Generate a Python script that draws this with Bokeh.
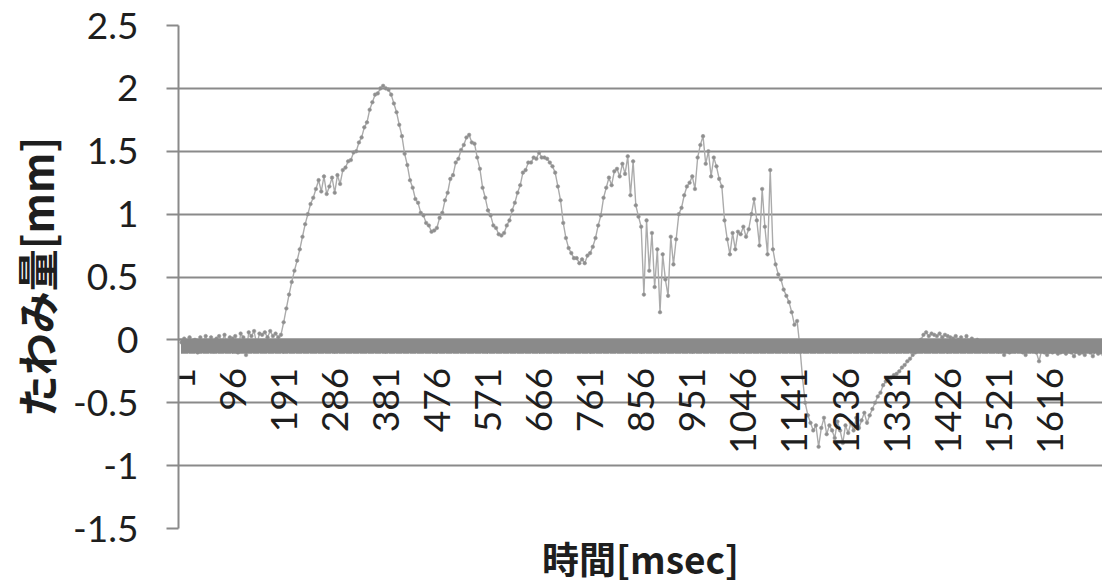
import math
from bokeh.plotting import figure
from bokeh.models import FixedTicker, Range1d, Title
from bokeh.embed import file_html
from bokeh.resources import INLINE

# Deflection [mm], one reading every 5 ms starting at 1 ms
deflection_mm = [
    -0.02, 0.01, -0.08, 0.02, -0.05, 0.00, -0.10, 0.02, -0.03, 0.03,
    -0.04, 0.02, -0.09, 0.01, 0.03, -0.02, 0.04, -0.06, 0.02, 0.01,
    0.03, -0.10, 0.05, 0.02, -0.12, 0.06, 0.03, 0.07, -0.04, 0.05,
    0.04, 0.06, 0.02, 0.07, 0.03, 0.05, 0.02, 0.04, 0.14, 0.25,
    0.36, 0.46, 0.55, 0.63, 0.72, 0.82, 0.92, 1.00, 1.08, 1.13,
    1.20, 1.27, 1.18, 1.30, 1.16, 1.22, 1.29, 1.17, 1.31, 1.24,
    1.35, 1.37, 1.42, 1.43, 1.49, 1.50, 1.57, 1.61, 1.69, 1.73,
    1.83, 1.89, 1.95, 1.96, 2.00, 2.02, 2.00, 1.99, 1.95, 1.88,
    1.81, 1.71, 1.62, 1.48, 1.39, 1.27, 1.21, 1.12, 1.09, 1.01,
    0.99, 0.93, 0.91, 0.86, 0.87, 0.89, 0.97, 1.01, 1.11, 1.17,
    1.28, 1.31, 1.41, 1.44, 1.51, 1.55, 1.61, 1.63, 1.57, 1.56,
    1.45, 1.36, 1.21, 1.13, 1.03, 0.99, 0.91, 0.89, 0.84, 0.83,
    0.85, 0.91, 0.95, 1.03, 1.09, 1.17, 1.23, 1.33, 1.35, 1.41,
    1.41, 1.45, 1.44, 1.49, 1.45, 1.45, 1.44, 1.41, 1.38, 1.33,
    1.22, 1.11, 0.93, 0.81, 0.73, 0.69, 0.65, 0.65, 0.61, 0.64,
    0.61, 0.67, 0.69, 0.74, 0.81, 0.91, 0.99, 1.13, 1.21, 1.29,
    1.23, 1.34, 1.36, 1.30, 1.40, 1.32, 1.46, 1.15, 1.42, 1.07,
    0.98, 0.90, 0.36, 0.95, 0.55, 0.85, 0.42, 0.72, 0.22, 0.68,
    0.48, 0.35, 0.82, 0.60, 0.80, 1.00, 1.05, 1.15, 1.22, 1.25,
    1.30, 1.20, 1.45, 1.55, 1.62, 1.40, 1.50, 1.30, 1.45, 1.38,
    1.28, 1.22, 0.95, 0.80, 0.68, 0.85, 0.72, 0.86, 0.84, 0.90,
    0.82, 0.88, 1.00, 1.12, 0.95, 0.75, 1.20, 0.90, 0.68, 1.35,
    0.72, 0.60, 0.52, 0.48, 0.40, 0.35, 0.30, 0.22, 0.12, 0.15,
    -0.05, -0.30, -0.50, -0.60, -0.66, -0.72, -0.68, -0.85, -0.70, -0.62,
    -0.75, -0.68, -0.72, -0.78, -0.65, -0.72, -0.82, -0.68, -0.74, -0.66,
    -0.72, -0.62, -0.70, -0.64, -0.58, -0.66, -0.60, -0.55, -0.50, -0.45,
    -0.42, -0.36, -0.33, -0.32, -0.30, -0.28, -0.27, -0.25, -0.22, -0.20,
    -0.17, -0.15, -0.12, -0.10, -0.06, 0.00, 0.04, 0.06, 0.03, 0.05,
    0.04, 0.03, 0.05, 0.02, 0.04, 0.03, 0.02, 0.01, 0.03, 0.00,
    0.02, -0.01, 0.03, -0.02, 0.01, -0.03, 0.00, -0.02, -0.04, -0.01,
    -0.03, -0.05, -0.04, -0.05, -0.06, -0.08, -0.12, -0.07, -0.10, -0.06,
    -0.09, -0.08, -0.06, -0.10, -0.12, -0.08, -0.09, -0.07, -0.10, -0.17,
    -0.08, -0.10, -0.12, -0.09, -0.10, -0.08, -0.11, -0.10, -0.09, -0.11,
    -0.08, -0.10, -0.13, -0.09, -0.11, -0.10, -0.12, -0.08, -0.10, -0.13,
    -0.09, -0.11, -0.10, -0.12,
]
step_ms = 5
time_ms = [1 + step_ms * i for i in range(len(deflection_mm))]

# Category axis: one slot per millisecond, labelled every 95
category_count = 1714
x_tick_values = list(range(1, 1617, 95))
x_tick_labels = [str(v) for v in x_tick_values]

y_tick_values = [-1.5, -1.0, -0.5, 0.0, 0.5, 1.0, 1.5, 2.0, 2.5]
y_tick_labels = ["-1.5", "-1", "-0.5", "0", "0.5", "1", "1.5", "2", "2.5"]

AXIS_GREY = "#8a8a8a"
TEXT = "#1e1e1e"
LATIN = "Lato"
CJK = "Noto Sans CJK JP"

p = figure(
    width=1102, height=584,
    output_backend="svg", toolbar_location=None,
    x_range=Range1d(-4.6, category_count),
    y_range=Range1d(y_tick_values[0], y_tick_values[-1]),
    min_border_left=178, min_border_right=0,
    min_border_top=25, min_border_bottom=50,
)
p.outline_line_color = None
p.background_fill_color = "white"
p.border_fill_color = "white"

# series: thin light line with small dot markers
p.line(time_ms, deflection_mm, line_color="#ababab", line_width=1.4)
p.scatter(time_ms, deflection_mm, marker="circle", size=3.6,
          fill_color="#8e8e8e", line_color="#9a9a9a", line_width=0.6)

# horizontal gridlines
p.xgrid.visible = False
p.ygrid.ticker = FixedTicker(ticks=y_tick_values)
p.ygrid.grid_line_color = AXIS_GREY
p.ygrid.grid_line_width = 2

# category axis crossing at zero, a tick mark for every category
xa = p.xaxis[0]
xa.fixed_location = 0
xa.ticker = FixedTicker(ticks=x_tick_values,
                        minor_ticks=list(range(1, category_count + 1)))
xa.major_label_overrides = {v: s for v, s in zip(x_tick_values, x_tick_labels)}
xa.major_label_orientation = math.pi / 2
xa.axis_line_color = AXIS_GREY
xa.axis_line_width = 2
xa.major_tick_line_color = AXIS_GREY
xa.minor_tick_line_color = AXIS_GREY
xa.major_tick_line_width = 1
xa.minor_tick_line_width = 1
xa.major_tick_in = 0
xa.minor_tick_in = 0
xa.major_tick_out = 14
xa.minor_tick_out = 14
xa.major_label_standoff = 14
xa.major_label_text_font = LATIN
xa.major_label_text_font_size = "37px"
xa.major_label_text_color = TEXT

ya = p.yaxis[0]
ya.ticker = FixedTicker(ticks=y_tick_values)
ya.major_label_overrides = {v: s for v, s in zip(y_tick_values, y_tick_labels)}
ya.axis_line_color = AXIS_GREY
ya.axis_line_width = 2
ya.major_tick_line_color = AXIS_GREY
ya.major_tick_line_width = 2
ya.major_tick_in = 0
ya.major_tick_out = 12
ya.minor_tick_line_color = None
ya.major_label_standoff = 28
ya.major_label_text_font = LATIN
ya.major_label_text_font_size = "37px"
ya.major_label_text_color = TEXT
ya.axis_label = "たわみ量[mm]"
ya.axis_label_text_font = CJK
ya.axis_label_text_font_style = "bold"
ya.axis_label_text_font_size = "42px"
ya.axis_label_text_color = TEXT
ya.axis_label_standoff = 4

p.add_layout(Title(text="時間[msec]", align="center", text_font=CJK,
                   text_font_style="bold", text_font_size="37px",
                   text_color=TEXT, standoff=0, offset=0), "below")

open("out.html", "w").write(file_html(p, INLINE))
